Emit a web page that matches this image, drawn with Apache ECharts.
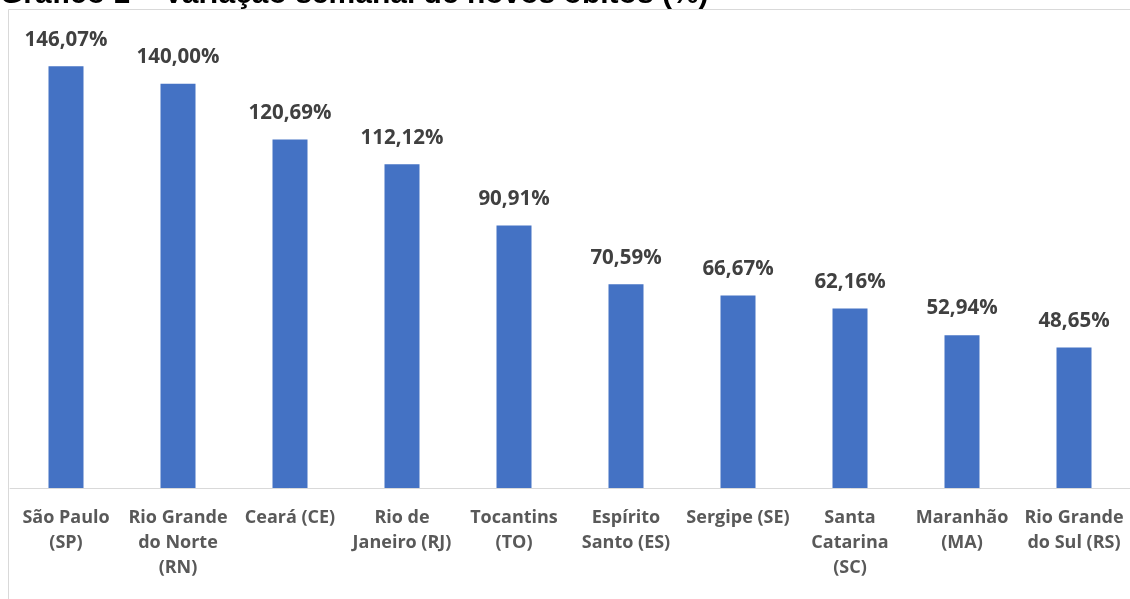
<!DOCTYPE html>
<html><head><meta charset="utf-8">
<script src="https://cdn.jsdelivr.net/npm/echarts@6/dist/echarts.min.js"></script>
<style>html,body{margin:0;padding:0;background:#fff}#c{width:1130px;height:599px}</style>
</head><body><div id="c"></div>
<script>
const titleText = 'Gráfico 1 – Variação semanal de novos óbitos (%)';
const categories = ['São Paulo\n(SP)','Rio Grande\ndo Norte\n(RN)','Ceará (CE)','Rio de\nJaneiro (RJ)','Tocantins\n(TO)','Espírito\nSanto (ES)','Sergipe (SE)','Santa\nCatarina\n(SC)','Maranhão\n(MA)','Rio Grande\ndo Sul (RS)'];
const values = [146.07,140.00,120.69,112.12,90.91,70.59,66.67,62.16,52.94,48.65];

const chart = echarts.init(document.getElementById('c'));
chart.setOption({
  animation:false,
  title:{text:titleText,left:0,top:-20,padding:0,textStyle:{fontFamily:'Liberation Sans',fontWeight:'bold',fontSize:30,color:'#000'}},
  graphic:[{type:'rect',shape:{x:8.5,y:9.5,width:1130,height:600},style:{fill:'none',stroke:'#d9d9d9',lineWidth:1},z:-1}],
  grid:{left:10,right:0,top:26,bottom:111,containLabel:false},
  xAxis:{type:'category',data:categories,
    axisLine:{lineStyle:{color:'#d9d9d9',width:1}},axisTick:{show:false},
    axisLabel:{interval:0,margin:17,fontFamily:'Open Sans',fontWeight:'bold',fontSize:18,color:'#595959',lineHeight:25}},
  yAxis:{type:'value',min:0,max:160,show:false,splitLine:{show:false}},
  series:[{type:'bar',data:values,barWidth:35,itemStyle:{color:'#4472C4'},
    label:{show:true,position:'top',distance:16,fontFamily:'Open Sans',fontWeight:'bold',fontSize:20.5,color:'#404040',
      formatter:p=>p.value.toFixed(2).replace('.',',')+'%'}}]
});
</script></body></html>
